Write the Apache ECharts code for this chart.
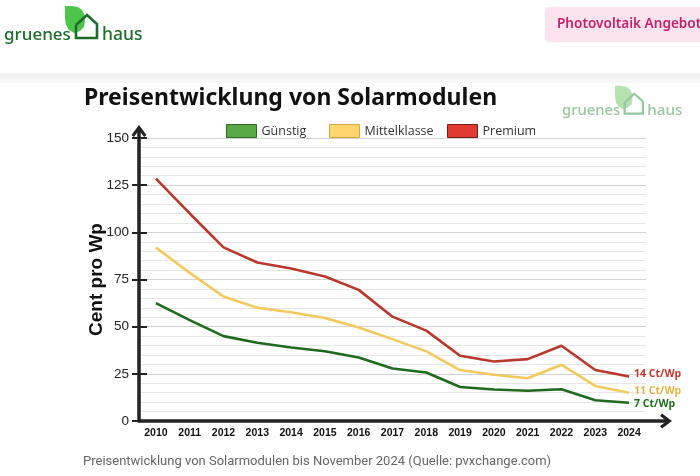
<!DOCTYPE html>
<html><head><meta charset="utf-8">
<script src="https://cdn.jsdelivr.net/npm/echarts@6/dist/echarts.min.js"></script>
<style>html,body{margin:0;padding:0;background:#fff}#c{width:700px;height:476px}</style>
</head><body><div id="c"></div>
<script>
const years = ['2010','2011','2012','2013','2014','2015','2016','2017','2018','2019','2020','2021','2022','2023','2024'];
const guenstig = [62.5, 53.5, 45, 41.5, 39, 37, 33.7, 27.8, 25.7, 18, 16.7, 16, 16.8, 11, 9.7];
const mittelklasse = [92, 78.5, 66, 60, 57.6, 54.6, 49.6, 43.4, 36.9, 27, 24.5, 22.7, 29.8, 18.6, 15];
const premium = [128.5, 110, 92, 84, 80.8, 76.6, 69.5, 55.3, 47.9, 34.6, 31.5, 32.8, 39.9, 27, 23.6];
const seriesNames = ['Günstig', 'Mittelklasse', 'Premium'];
const endLabels = ['7 Ct/Wp', '11 Ct/Wp', '14 Ct/Wp'];
const yTicks = [0, 25, 50, 75, 100, 125, 150];

const chart = echarts.init(document.getElementById('c'));
const chevron = 'path://M0,10 L7.5,0 L15,10 L12.6,12 L7.5,5.2 L2.4,12 Z';
const lineColors = ['#1f6a1f', '#f1c95c', '#b8392c'];
const labelColors = ['#1f6a1f', '#e3b443', '#c0392b'];
const legendColors = [['#5aa846','#2d6b22'], ['#ffd66e','#d6a848'], ['#e03b30','#7a1c16']];
const legendLefts = [226, 329, 447];
const dataSets = [guenstig, mittelklasse, premium];

const leafPts = [[61,1],[68,1],[74,2],[78,5],[80.5,10],[81,16],[80,22],[76,26],[70,28],[65,25],[62,20],[61,14]];

function logo(x, y, s, textColor, leafColor, houseColor, z) {
  return {
    type: 'group', x: x, y: y, scaleX: s, scaleY: s, z: z || 10,
    children: [
      {type:'polygon', shape:{points: leafPts}, style:{fill:leafColor}},
      {type:'polyline', shape:{points:[[72,20],[72,33],[93,33],[93,19],[83,10],[72,20]]}, style:{stroke:houseColor, lineWidth:2.6, fill:null}},
      {type:'text', x:0, y:30, style:{text:'gruenes', font:'500 17px "Noto Sans"', fill:textColor, textVerticalAlign:'middle'}},
      {type:'text', x:98, y:30, style:{text:'haus', font:'500 17.5px "Noto Sans"', fill:textColor, textVerticalAlign:'middle'}}
    ]
  };
}

const option = {
  animation: false,
  backgroundColor: '#fff',
  grid: [
    {left: 139, right: 54, top: 138, bottom: 55},
    {left: 139, right: 34, top: 131, bottom: 55}
  ],
  legend: seriesNames.map((n, i) => ({
    data: [{name: n, itemStyle: {color: legendColors[i][0], borderColor: legendColors[i][1], borderWidth: 1}}],
    left: legendLefts[i], top: 124, padding: 0, itemWidth: 30, itemHeight: 13, itemGap: 7,
    icon: 'rect', selectedMode: false,
    textStyle: {fontFamily: 'Open Sans', fontSize: 12.5, color: '#333'}
  })),
  xAxis: [
    {type: 'category', gridIndex: 0, data: years, boundaryGap: true,
     axisLine: {show: false}, axisTick: {show: false},
     axisLabel: {fontFamily: 'Liberation Sans', fontWeight: 'bold', fontSize: 10.5, color: '#111', margin: 7, interval: 0},
     splitLine: {show: false}},
    {type: 'value', gridIndex: 1, min: 0, max: 1, axisLabel: {show: false}, axisTick: {show: false}, splitLine: {show: false},
     axisLine: {show: true, onZero: false, symbol: ['none', chevron], symbolSize: [15, 12], symbolOffset: [0, 0],
       lineStyle: {color: '#222', width: 3.5}}}
  ],
  yAxis: [
    {type: 'value', gridIndex: 0, min: 0, max: 150, interval: 25,
     name: 'Cent pro Wp', nameLocation: 'middle', nameGap: 33, nameRotate: 90, nameMoveOverlap: false,
     nameTextStyle: {fontFamily: 'Liberation Sans', fontWeight: 'bold', fontSize: 19, color: '#111'},
     axisLine: {show: false},
     axisTick: {show: true, length: 7, lineStyle: {color: '#222', width: 2}},
     axisLabel: {fontFamily: 'Liberation Sans', fontSize: 13.5, color: '#222', margin: 10,
       formatter: v => yTicks.indexOf(v) >= 0 ? String(v) : ''},
     splitLine: {show: true, lineStyle: {color: '#d2d2d2', width: 1}},
     minorTick: {show: false, splitNumber: 5},
     minorSplitLine: {show: true, lineStyle: {color: '#e6e6e6', width: 1}}},
    {type: 'value', gridIndex: 0, position: 'left', min: 0, max: 150, interval: 25,
     axisLine: {show: false}, axisLabel: {show: false}, splitLine: {show: false},
     axisTick: {show: true, inside: true, length: 8, lineStyle: {color: '#222', width: 2}}},
    {type: 'value', gridIndex: 1, min: 0, max: 1, axisLabel: {show: false}, axisTick: {show: false}, splitLine: {show: false},
     axisLine: {show: true, onZero: false, symbol: ['none', chevron], symbolSize: [15, 12], symbolOffset: [0, 0],
       lineStyle: {color: '#222', width: 3.5}}}
  ],
  series: seriesNames.map((n, i) => ({
    name: n, type: 'line', xAxisIndex: 0, yAxisIndex: 0, data: dataSets[i],
    symbol: 'none', z: 3 + i,
    lineStyle: {color: lineColors[i], width: 2.6},
    itemStyle: {color: lineColors[i]},
    endLabel: {show: true, formatter: () => endLabels[i], color: labelColors[i], fontFamily: 'Open Sans', fontWeight: 'bold', fontSize: 10.5, distance: 5,
      offset: [0, i === 0 ? 1 : -2]}
  })),
  graphic: [
    {type: 'rect', shape: {x: 0, y: 73, width: 700, height: 6}, style: {fill: '#f2f2f2'}, z: 1},
    {type: 'rect', shape: {x: 0, y: 79, width: 700, height: 4}, style: {fill: '#f8f8f8'}, z: 1},
    logo(4, 5, 1, '#1e6b2b', '#4dc44a', '#1e6b2b', 10),
    logo(562, 85, 0.87, '#97c79f', '#b6e2b0', '#97c79f', 10),
    {type: 'rect', shape: {x: 545, y: 7, width: 170, height: 35, r: 4}, style: {fill: '#fde3ee'}, z: 5},
    {type: 'text', x: 557, y: 24.5, style: {text: 'Photovoltaik Angebote', font: '600 13.6px "Noto Sans"', fill: '#c4236b', textVerticalAlign: 'middle'}, z: 6},
    {type: 'text', x: 84, y: 98, style: {text: 'Preisentwicklung von Solarmodulen', font: 'bold 23px "Noto Sans"', fill: '#111', textVerticalAlign: 'middle'}, z: 6},
    {type: 'text', x: 83, y: 462, style: {text: 'Preisentwicklung von Solarmodulen bis November 2024 (Quelle: pvxchange.com)', font: '13px Roboto', fill: '#666', textVerticalAlign: 'middle'}, z: 6}
  ]
};
chart.setOption(option);
</script></body></html>
